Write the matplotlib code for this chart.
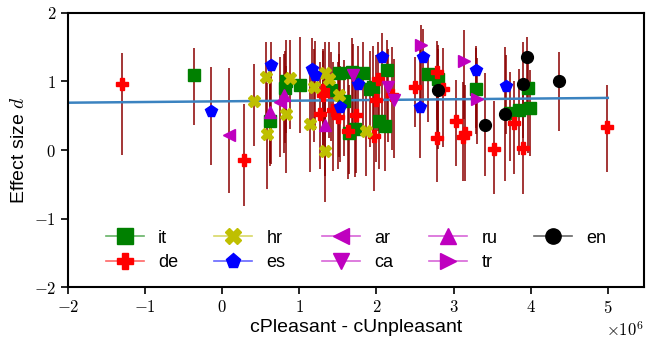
import matplotlib
matplotlib.use("Agg")
import matplotlib.pyplot as plt
from matplotlib.lines import Line2D
import numpy as np

plt.rcParams['font.family'] = 'serif'
plt.rcParams['font.serif'] = ['cmr10']
plt.rcParams['mathtext.fontset'] = 'cm'
plt.rcParams['axes.formatter.use_mathtext'] = True

# x values in units of 1e6 (cPleasant - cUnpleasant), y = effect size d
it_x = [-0.37, 0.62, 0.83, 0.81, 1.01, 1.41, 1.52, 1.58, 1.65, 1.72, 1.69, 1.83,
        1.92, 1.96, 2.04, 2.11, 2.14, 2.67, 2.80, 3.29, 3.73, 3.85, 3.99, 3.97]
it_y = [1.09, 0.42, 1.00, 0.90, 0.95, 0.88, 1.12, 0.71, 0.25, 0.30, 1.14, 1.12,
        0.89, 0.92, 0.42, 0.35, 1.16, 1.11, 1.03, 0.89, 0.54, 0.58, 0.61, 0.90]
it_lo = [0.72, 0.65, 0.75, 0.80, 0.70, 0.75, 0.70, 0.80, 0.60, 0.70, 0.75, 0.80,
         0.85, 0.70, 0.70, 0.65, 0.75, 0.70, 0.85, 0.65, 0.70, 0.65, 0.70, 0.95]
it_hi = [0.40, 0.75, 0.60, 0.55, 0.70, 0.55, 0.45, 0.60, 0.70, 0.65, 0.50, 0.45,
         0.55, 0.60, 0.70, 0.65, 0.45, 0.25, 0.50, 0.60, 0.60, 0.60, 0.55, 0.55]

de_x = [-1.30, 0.29, 1.31, 1.31, 1.27, 1.44, 1.50, 1.63, 1.74, 1.97, 2.02, 1.99,
        2.20, 2.50, 2.79, 2.86, 2.78, 3.03, 3.12, 3.15, 3.53, 3.78, 3.90, 4.99]
de_y = [0.96, -0.14, 0.88, 0.80, 0.53, 0.59, 0.48, 0.28, 0.51, 0.20, 1.03, 0.73,
        0.80, 0.92, 1.14, 0.89, 0.18, 0.43, 0.19, 0.25, 0.01, 0.39, 0.03, 0.33]
de_lo = [1.04, 0.67, 0.85, 0.75, 0.80, 0.90, 0.75, 0.70, 0.85, 0.80, 0.75, 0.90,
         0.80, 0.58, 0.70, 0.85, 0.65, 0.66, 0.64, 0.70, 0.65, 0.74, 0.67, 0.65]
de_hi = [0.46, 0.81, 0.60, 0.65, 0.75, 0.70, 0.80, 0.85, 0.70, 0.80, 0.55, 0.65,
         0.70, 0.44, 0.45, 0.60, 1.00, 0.59, 0.80, 0.70, 0.70, 0.61, 0.80, 0.62]

hr_x = [0.41, 0.57, 0.58, 0.83, 0.88, 1.14, 1.19, 1.33, 1.39, 1.34, 1.52, 1.86]
hr_y = [0.71, 1.07, 0.23, 0.52, 1.05, 0.38, 0.92, 1.12, 1.03, -0.01, 0.80, 0.27]
hr_lo = [0.65, 0.70, 0.80, 0.85, 0.75, 0.70, 0.80, 0.75, 0.85, 0.75, 0.90, 0.65]
hr_hi = [0.55, 0.50, 0.75, 0.70, 0.55, 0.80, 0.55, 0.45, 0.55, 0.80, 0.60, 0.70]

es_x = [-0.15, 0.63, 1.17, 1.20, 1.53, 1.76, 2.07, 2.57, 2.60, 3.29, 3.68]
es_y = [0.57, 1.24, 1.18, 1.09, 0.63, 0.96, 1.36, 0.62, 1.36, 1.17, 0.93]
es_lo = [0.79, 1.45, 0.85, 0.80, 0.80, 0.75, 0.90, 0.73, 0.80, 0.85, 0.70]
es_hi = [0.64, 0.34, 0.45, 0.50, 0.60, 0.55, 0.35, 0.86, 0.40, 0.35, 0.45]

ar_x = [0.09, 0.75]
ar_y = [0.22, 0.70]
ar_lo = [0.84, 0.80]
ar_hi = [0.97, 0.65]

ca_x = [1.70, 2.15, 2.23]
ca_y = [1.10, 0.92, 0.73]
ca_lo = [0.80, 0.80, 0.85]
ca_hi = [0.45, 0.55, 0.60]

ru_x = [0.62, 0.80, 1.34]
ru_y = [0.56, 0.80, 0.37]
ru_lo = [0.75, 0.85, 0.75]
ru_hi = [0.75, 0.60, 0.80]

tr_x = [2.58, 3.13, 3.30]
tr_y = [1.53, 1.30, 0.74]
tr_lo = [0.90, 0.85, 0.65]
tr_hi = [0.29, 0.45, 0.60]

en_x = [2.80, 3.41, 3.67, 3.90, 3.95, 4.37]
en_y = [0.87, 0.36, 0.53, 0.97, 1.35, 1.01]
en_lo = [0.85, 0.74, 0.98, 0.80, 0.75, 0.74]
en_hi = [0.60, 0.76, 0.97, 0.60, 0.30, 0.42]

# trend line (end points)
trend_x = [-2.0, 5.0]
trend_y = [0.69, 0.76]

langs = ['it', 'de', 'hr', 'es', 'ar', 'ca', 'ru', 'tr', 'en']
markers = ['s', 'P', 'X', 'p', '<', 'v', '^', '>', 'o']
colors = ['g', 'r', 'y', 'b', 'm', 'm', 'm', 'm', 'k']
data = {
    'it': (it_x, it_y, it_lo, it_hi),
    'de': (de_x, de_y, de_lo, de_hi),
    'hr': (hr_x, hr_y, hr_lo, hr_hi),
    'es': (es_x, es_y, es_lo, es_hi),
    'ar': (ar_x, ar_y, ar_lo, ar_hi),
    'ca': (ca_x, ca_y, ca_lo, ca_hi),
    'ru': (ru_x, ru_y, ru_lo, ru_hi),
    'tr': (tr_x, tr_y, tr_lo, tr_hi),
    'en': (en_x, en_y, en_lo, en_hi),
}
scale = 1e6

fig = plt.figure(figsize=(6.46, 3.39), dpi=100)
ax = fig.add_axes([0.105, 0.153, 0.892, 0.809])

# error bars first, markers on top
for l in langs:
    x, y, lo, hi = data[l]
    ax.errorbar(np.array(x) * scale, y, yerr=[lo, hi], fmt='none',
                ecolor='#8b0000', elinewidth=1.3, alpha=0.85, zorder=1)

ax.plot(np.array(trend_x) * scale, trend_y, color='#3b83c0', lw=1.8, zorder=2)

handles = []
for l, m, c in zip(langs, markers, colors):
    x, y, lo, hi = data[l]
    ax.plot(np.array(x) * scale, y, linestyle='none', marker=m, color=c,
            markersize=8.5, zorder=3)
    handles.append(Line2D([], [], color=matplotlib.colors.to_rgba(c, 0.6),
                          marker=m, markersize=11,
                          markerfacecolor=c, markeredgecolor=c,
                          linewidth=1.2, label=l))

ax.set_xlim(-2 * scale, 5.47 * scale)
ax.set_ylim(-2, 2)
ax.set_yticks([-2, -1, 0, 1, 2])
ax.tick_params(labelsize=12, length=5, width=1.2)
ax.xaxis.get_offset_text().set_fontsize(12)
for s in ax.spines.values():
    s.set_linewidth(1.5)

ax.set_xlabel('cPleasant - cUnpleasant', fontsize=14, family='Liberation Sans',
              labelpad=2)
ax.set_ylabel('Effect size $d$', fontsize=14, family='Liberation Sans')

ax.legend(handles=handles, loc='lower center', ncol=5, frameon=False,
          prop={'family': 'Liberation Sans', 'size': 13},
          handlelength=2.1, handletextpad=0.8, columnspacing=2.0,
          labelspacing=0.4, borderaxespad=0.5)

plt.savefig('out.png', dpi=100)
